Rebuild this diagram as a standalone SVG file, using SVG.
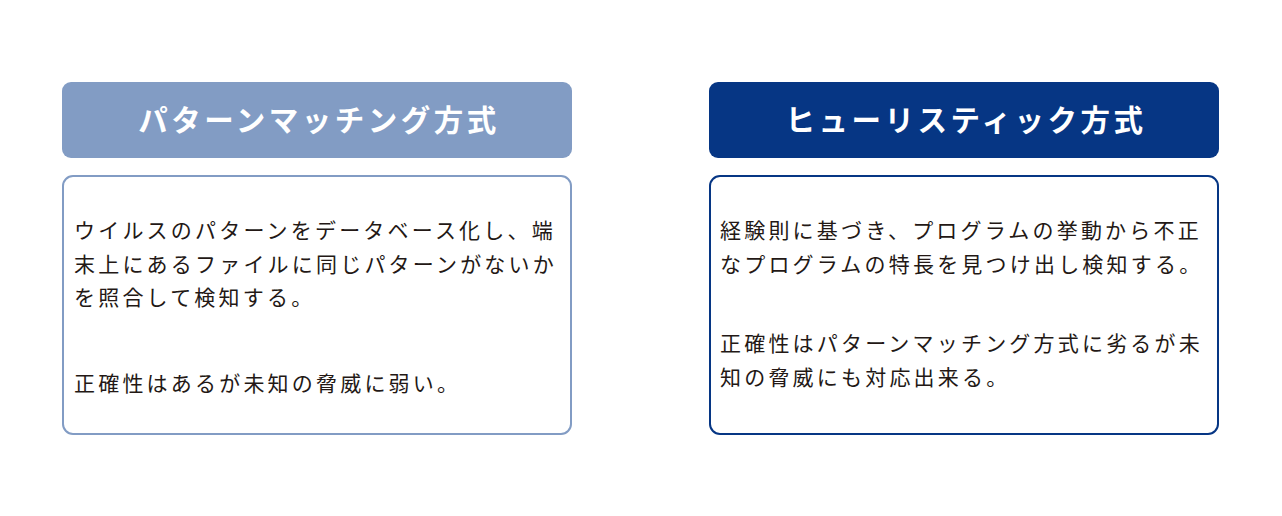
<svg xmlns="http://www.w3.org/2000/svg" width="1282" height="516" viewBox="0 0 1282 516">
<style>
.hd{font-family:"Noto Sans CJK JP","Noto Sans",sans-serif;font-weight:bold;font-size:29.5px;letter-spacing:3.5px;fill:#ffffff;text-anchor:middle}
.bd{font-family:"Noto Sans CJK JP","Noto Sans",sans-serif;font-size:21px;letter-spacing:3.2px;fill:#231815}
</style>
<rect width="1282" height="516" fill="#ffffff"/>
<g id="left-header">
<rect x="62" y="82" width="510" height="76" rx="9" fill="#829cc4"/>
<text class="hd" x="319" y="131">パターンマッチング方式</text>
</g>
<g id="left-body">
<rect x="63" y="176" width="508" height="258" rx="10" fill="#ffffff" stroke="#829cc4" stroke-width="2"/>
<text class="bd" x="74" y="238">ウイルスのパターンをデータベース化し、端</text>
<text class="bd" x="74" y="272">末上にあるファイルに同じパターンがないか</text>
<text class="bd" x="74" y="305">を照合して検知する。</text>
<text class="bd" x="74" y="391">正確性はあるが未知の脅威に弱い。</text>
</g>
<g id="right-header">
<rect x="709" y="82" width="510" height="76" rx="9" fill="#063684"/>
<text class="hd" x="966" y="131">ヒューリスティック方式</text>
</g>
<g id="right-body">
<rect x="710" y="176" width="508" height="258" rx="10" fill="#ffffff" stroke="#063684" stroke-width="2"/>
<text class="bd" x="720" y="238">経験則に基づき、プログラムの挙動から不正</text>
<text class="bd" x="720" y="272">なプログラムの特長を見つけ出し検知する。</text>
<text class="bd" x="720" y="351">正確性はパターンマッチング方式に劣るが未</text>
<text class="bd" x="720" y="385">知の脅威にも対応出来る。</text>
</g>
<g id="connectors"></g>
</svg>
